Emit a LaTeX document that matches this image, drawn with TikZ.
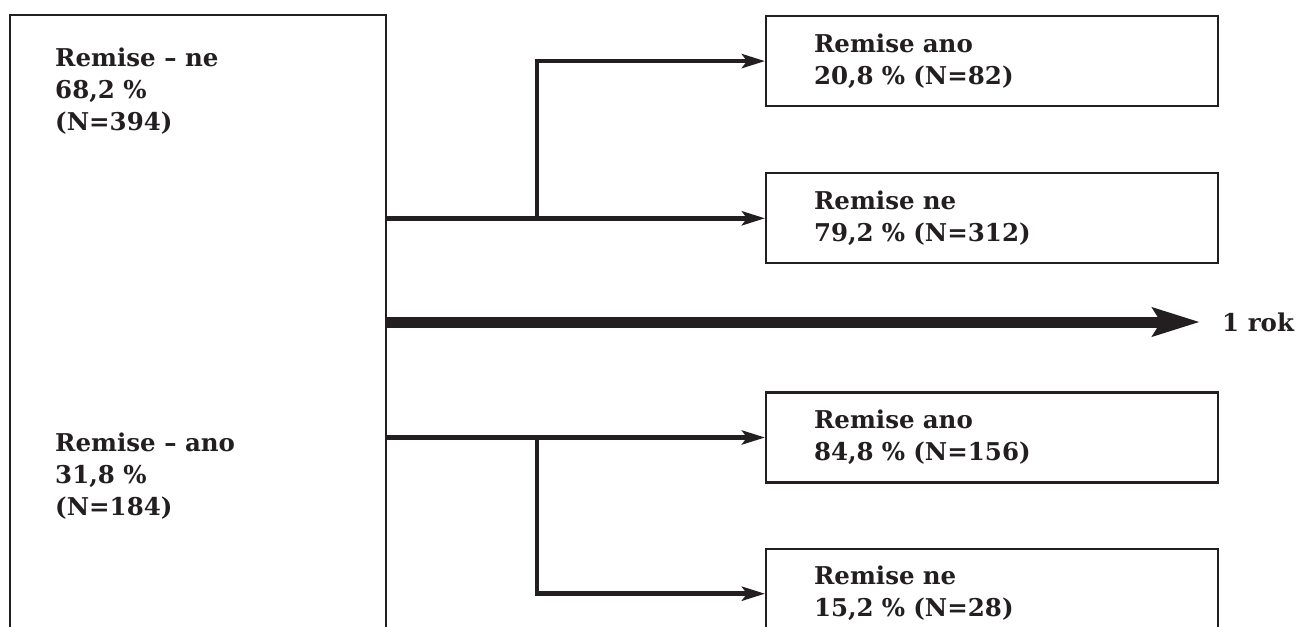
\documentclass[tikz,border=0pt]{standalone}
\usepackage{fontspec}
\setmainfont{DejaVu Serif}
\usetikzlibrary{positioning, arrows.meta}
\definecolor{ink}{RGB}{35,31,32}

\begin{document}
\begin{tikzpicture}[x=1pt, y=-1pt, node distance=65pt,
    every node/.style={font=\fontsize{24.5}{32}\selectfont\bfseries, text=ink},
    outcome/.style={draw=ink, line width=2.2pt, text width=356pt, inner xsep=48pt, inner ysep=0pt, minimum height=90pt, align=left},
    branch/.style={draw=ink, line width=4.5pt, -{Stealth[length=23pt, width=14pt, inset=5pt]}},
    timeline/.style={draw=ink, line width=11pt, -{Stealth[length=47pt, width=28pt, inset=8pt]}}]
    \useasboundingbox (0,0) rectangle (1297,626);
    \clip (0,0) rectangle (1297,626);
    \node[draw=ink, line width=2.2pt, inner sep=0pt, minimum width=376pt, minimum height=660pt, anchor=north west] (baseline) at (9,14) {};
    \node[anchor=base west, align=left, inner sep=0pt] (baseline no) at (55,130) {Remise -- ne\\68,2 \%\\(N=394)};
    \node[anchor=base west, align=left, inner sep=0pt] (baseline yes) at (55,515) {Remise -- ano\\31,8 \%\\(N=184)};
    \node[outcome, anchor=north west] (yes 1) at (765,15) {Remise ano\\20,8 \% (N=82)};
    \node[outcome, below=of yes 1] (no 1) {Remise ne\\79,2 \% (N=312)};
    \node[outcome, below=127pt of no 1] (yes 2) {Remise ano\\84,8 \% (N=156)};
    \node[outcome, below=64pt of yes 2] (no 2) {Remise ne\\15,2 \% (N=28)};
    \node[anchor=west, inner sep=0pt] (year) at (1222,322) {1 rok};
    \coordinate (fork) at (537,0);

    \draw[branch] (baseline.east |- no 1) -- (no 1);
    \draw[branch] (fork |- no 1) |- (yes 1);
    \draw[timeline] (baseline.east |- year) -- ([xshift=-22pt]year.west);
    \draw[branch] (baseline.east |- yes 2) -- (yes 2);
    \draw[branch] (fork |- yes 2) |- (no 2);
\end{tikzpicture}
\end{document}
